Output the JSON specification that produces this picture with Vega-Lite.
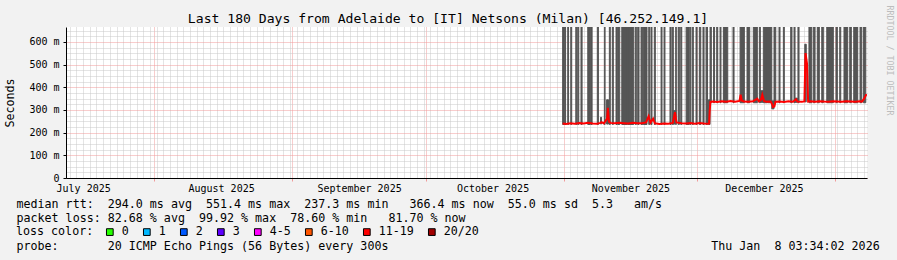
{
  "$schema": "https://vega.github.io/schema/vega-lite/v6.json",
  "width": 801,
  "height": 151,
  "autosize": {"type": "none"},
  "padding": {"left": 66, "top": 27, "right": 30, "bottom": 82},
  "background": "#f2f2f2",
  "title": {
    "text": "Last 180 Days from Adelaide to [IT] Netsons (Milan) [46.252.149.1]",
    "font": "DejaVu Sans Mono",
    "fontSize": 13.1,
    "fontWeight": "normal",
    "color": "#000000",
    "anchor": "middle",
    "dx": -18.5,
    "baseline": "alphabetic",
    "offset": -31.5
  },
  "config": {
    "view": {"fill": "#ffffff", "stroke": null},
    "font": "DejaVu Sans Mono"
  },
  "datasets": {
    "smoke": [
      {"s":"2025-10-31T18:00Z","e":"2025-11-01T03:00Z","lo":236,"hi":666},
      {"s":"2025-11-01T06:00Z","e":"2025-11-01T10:00Z","lo":236,"hi":666},
      {"s":"2025-11-01T21:30Z","e":"2025-11-02T02:00Z","lo":236,"hi":666},
      {"s":"2025-11-02T14:00Z","e":"2025-11-02T19:00Z","lo":236,"hi":666},
      {"s":"2025-11-03T17:00Z","e":"2025-11-03T22:00Z","lo":236,"hi":666},
      {"s":"2025-11-04T03:30Z","e":"2025-11-04T09:00Z","lo":236,"hi":666},
      {"s":"2025-11-04T21:00Z","e":"2025-11-05T03:00Z","lo":236,"hi":666},
      {"s":"2025-11-06T09:30Z","e":"2025-11-06T23:30Z","lo":236,"hi":666},
      {"s":"2025-11-07T03:00Z","e":"2025-11-07T09:00Z","lo":236,"hi":666},
      {"s":"2025-11-08T13:00Z","e":"2025-11-08T19:00Z","lo":236,"hi":666},
      {"s":"2025-11-10T03:00Z","e":"2025-11-10T07:00Z","lo":236,"hi":666},
      {"s":"2025-11-11T06:00Z","e":"2025-11-11T11:00Z","lo":236,"hi":666},
      {"s":"2025-11-11T22:00Z","e":"2025-11-12T03:30Z","lo":236,"hi":666},
      {"s":"2025-11-12T18:00Z","e":"2025-11-12T23:30Z","lo":236,"hi":666},
      {"s":"2025-11-13T03:00Z","e":"2025-11-13T14:00Z","lo":236,"hi":666},
      {"s":"2025-11-14T01:00Z","e":"2025-11-15T05:30Z","lo":236,"hi":666},
      {"s":"2025-11-15T08:00Z","e":"2025-11-16T17:30Z","lo":236,"hi":666},
      {"s":"2025-11-17T02:00Z","e":"2025-11-17T07:30Z","lo":236,"hi":666},
      {"s":"2025-11-17T15:00Z","e":"2025-11-17T22:00Z","lo":236,"hi":666},
      {"s":"2025-11-18T09:00Z","e":"2025-11-18T18:00Z","lo":236,"hi":666},
      {"s":"2025-11-18T21:00Z","e":"2025-11-19T17:00Z","lo":236,"hi":666},
      {"s":"2025-11-20T02:30Z","e":"2025-11-20T08:00Z","lo":236,"hi":666},
      {"s":"2025-11-20T15:00Z","e":"2025-11-20T20:00Z","lo":236,"hi":666},
      {"s":"2025-11-21T08:30Z","e":"2025-11-21T14:00Z","lo":236,"hi":666},
      {"s":"2025-11-22T21:00Z","e":"2025-11-23T02:00Z","lo":236,"hi":666},
      {"s":"2025-11-23T13:00Z","e":"2025-11-23T18:00Z","lo":236,"hi":666},
      {"s":"2025-11-24T21:00Z","e":"2025-11-25T03:00Z","lo":236,"hi":666},
      {"s":"2025-11-25T10:00Z","e":"2025-11-25T15:00Z","lo":236,"hi":666},
      {"s":"2025-11-26T04:00Z","e":"2025-11-26T07:00Z","lo":236,"hi":666},
      {"s":"2025-11-26T18:00Z","e":"2025-11-26T23:30Z","lo":236,"hi":666},
      {"s":"2025-11-27T07:00Z","e":"2025-11-27T12:30Z","lo":236,"hi":666},
      {"s":"2025-11-28T12:00Z","e":"2025-11-29T04:00Z","lo":236,"hi":666},
      {"s":"2025-11-29T08:00Z","e":"2025-11-29T13:00Z","lo":236,"hi":666},
      {"s":"2025-11-29T21:30Z","e":"2025-11-30T03:00Z","lo":236,"hi":666},
      {"s":"2025-11-30T17:30Z","e":"2025-11-30T23:00Z","lo":236,"hi":666},
      {"s":"2025-12-01T11:30Z","e":"2025-12-01T19:00Z","lo":236,"hi":666},
      {"s":"2025-12-02T07:00Z","e":"2025-12-02T12:30Z","lo":236,"hi":666},
      {"s":"2025-12-02T23:30Z","e":"2025-12-03T07:30Z","lo":236,"hi":666},
      {"s":"2025-12-03T21:00Z","e":"2025-12-04T04:00Z","lo":332,"hi":666},
      {"s":"2025-12-04T16:00Z","e":"2025-12-04T21:30Z","lo":332,"hi":666},
      {"s":"2025-12-05T09:00Z","e":"2025-12-05T14:30Z","lo":332,"hi":666},
      {"s":"2025-12-06T03:00Z","e":"2025-12-06T08:00Z","lo":332,"hi":666},
      {"s":"2025-12-06T21:00Z","e":"2025-12-07T20:30Z","lo":332,"hi":666},
      {"s":"2025-12-09T01:00Z","e":"2025-12-09T06:30Z","lo":332,"hi":666},
      {"s":"2025-12-10T15:00Z","e":"2025-12-11T14:00Z","lo":332,"hi":666},
      {"s":"2025-12-12T04:30Z","e":"2025-12-12T19:00Z","lo":332,"hi":666},
      {"s":"2025-12-13T14:30Z","e":"2025-12-14T12:00Z","lo":332,"hi":666},
      {"s":"2025-12-14T23:00Z","e":"2025-12-15T04:30Z","lo":332,"hi":666},
      {"s":"2025-12-15T20:30Z","e":"2025-12-16T16:30Z","lo":332,"hi":666},
      {"s":"2025-12-16T19:00Z","e":"2025-12-17T18:00Z","lo":332,"hi":666},
      {"s":"2025-12-18T06:00Z","e":"2025-12-18T15:30Z","lo":332,"hi":666},
      {"s":"2025-12-19T09:00Z","e":"2025-12-19T14:30Z","lo":332,"hi":666},
      {"s":"2025-12-20T08:30Z","e":"2025-12-20T13:30Z","lo":332,"hi":666},
      {"s":"2025-12-22T00:00Z","e":"2025-12-22T07:00Z","lo":332,"hi":666},
      {"s":"2025-12-22T18:00Z","e":"2025-12-22T23:30Z","lo":332,"hi":666},
      {"s":"2025-12-23T15:30Z","e":"2025-12-23T21:00Z","lo":332,"hi":666},
      {"s":"2025-12-26T02:30Z","e":"2025-12-26T17:30Z","lo":332,"hi":666},
      {"s":"2025-12-27T02:00Z","e":"2025-12-27T11:30Z","lo":332,"hi":666},
      {"s":"2025-12-27T23:30Z","e":"2025-12-28T10:30Z","lo":332,"hi":666},
      {"s":"2025-12-28T23:30Z","e":"2025-12-29T08:00Z","lo":332,"hi":666},
      {"s":"2025-12-30T02:30Z","e":"2025-12-31T14:00Z","lo":332,"hi":666},
      {"s":"2026-01-01T04:30Z","e":"2026-01-01T11:30Z","lo":332,"hi":666},
      {"s":"2026-01-02T00:30Z","e":"2026-01-02T06:00Z","lo":332,"hi":666},
      {"s":"2026-01-02T23:30Z","e":"2026-01-03T19:30Z","lo":332,"hi":666},
      {"s":"2026-01-04T06:30Z","e":"2026-01-04T15:00Z","lo":332,"hi":666},
      {"s":"2026-01-05T04:00Z","e":"2026-01-06T01:30Z","lo":332,"hi":666},
      {"s":"2026-01-06T14:00Z","e":"2026-01-06T23:00Z","lo":332,"hi":666},
      {"s":"2026-01-07T08:00Z","e":"2026-01-07T21:00Z","lo":332,"hi":666},
      {"s":"2025-12-25T04:00Z","e":"2025-12-25T12:00Z","lo":336,"hi":590},
      {"s":"2025-11-10T15:00Z","e":"2025-11-11T01:30Z","lo":238,"hi":345},
      {"s":"2025-11-09T06:30Z","e":"2025-11-09T12:00Z","lo":238,"hi":268},
      {"s":"2025-11-25T15:00Z","e":"2025-11-26T03:00Z","lo":238,"hi":297},
      {"s":"2025-12-03T13:00Z","e":"2025-12-03T21:00Z","lo":236,"hi":345},
      {"s":"2025-12-15T04:30Z","e":"2025-12-15T20:00Z","lo":334,"hi":385},
      {"s":"2025-12-17T18:00Z","e":"2025-12-18T06:00Z","lo":305,"hi":340},
      {"s":"2025-12-22T23:30Z","e":"2025-12-23T13:00Z","lo":334,"hi":352}
    ],
    "median": [
      {"t":"2025-10-31T18:00Z","med":240,"loss":"11-19"},
      {"t":"2025-11-01T12:00Z","med":238,"loss":"11-19"},
      {"t":"2025-11-02T12:00Z","med":241,"loss":"11-19"},
      {"t":"2025-11-03T12:00Z","med":239,"loss":"11-19"},
      {"t":"2025-11-04T12:00Z","med":242,"loss":"11-19"},
      {"t":"2025-11-05T12:00Z","med":240,"loss":"11-19"},
      {"t":"2025-11-06T12:00Z","med":244,"loss":"11-19"},
      {"t":"2025-11-07T12:00Z","med":240,"loss":"11-19"},
      {"t":"2025-11-08T12:00Z","med":239,"loss":"11-19"},
      {"t":"2025-11-09T06:00Z","med":243,"loss":"11-19"},
      {"t":"2025-11-09T12:00Z","med":246,"loss":"11-19"},
      {"t":"2025-11-10T00:00Z","med":241,"loss":"11-19"},
      {"t":"2025-11-10T18:00Z","med":262,"loss":"11-19"},
      {"t":"2025-11-10T22:00Z","med":310,"loss":"11-19"},
      {"t":"2025-11-11T04:00Z","med":248,"loss":"11-19"},
      {"t":"2025-11-11T12:00Z","med":243,"loss":"11-19"},
      {"t":"2025-11-12T12:00Z","med":241,"loss":"11-19"},
      {"t":"2025-11-13T12:00Z","med":244,"loss":"11-19"},
      {"t":"2025-11-14T12:00Z","med":242,"loss":"11-19"},
      {"t":"2025-11-15T12:00Z","med":240,"loss":"11-19"},
      {"t":"2025-11-16T12:00Z","med":244,"loss":"11-19"},
      {"t":"2025-11-17T12:00Z","med":241,"loss":"11-19"},
      {"t":"2025-11-18T12:00Z","med":242,"loss":"11-19"},
      {"t":"2025-11-19T12:00Z","med":245,"loss":"11-19"},
      {"t":"2025-11-20T02:00Z","med":272,"loss":"11-19"},
      {"t":"2025-11-20T12:00Z","med":244,"loss":"11-19"},
      {"t":"2025-11-21T02:00Z","med":262,"loss":"11-19"},
      {"t":"2025-11-21T12:00Z","med":241,"loss":"11-19"},
      {"t":"2025-11-22T12:00Z","med":238,"loss":"11-19"},
      {"t":"2025-11-23T12:00Z","med":240,"loss":"11-19"},
      {"t":"2025-11-24T12:00Z","med":239,"loss":"11-19"},
      {"t":"2025-11-25T12:00Z","med":243,"loss":"11-19"},
      {"t":"2025-11-26T00:00Z","med":290,"loss":"11-19"},
      {"t":"2025-11-26T08:00Z","med":245,"loss":"11-19"},
      {"t":"2025-11-27T12:00Z","med":241,"loss":"11-19"},
      {"t":"2025-11-28T12:00Z","med":240,"loss":"11-19"},
      {"t":"2025-11-29T12:00Z","med":242,"loss":"11-19"},
      {"t":"2025-11-30T12:00Z","med":239,"loss":"11-19"},
      {"t":"2025-12-01T12:00Z","med":243,"loss":"11-19"},
      {"t":"2025-12-02T12:00Z","med":240,"loss":"11-19"},
      {"t":"2025-12-03T12:00Z","med":239,"loss":"11-19"},
      {"t":"2025-12-03T16:00Z","med":240,"loss":"11-19"},
      {"t":"2025-12-03T19:00Z","med":292,"loss":"11-19"},
      {"t":"2025-12-03T23:00Z","med":336,"loss":"11-19"},
      {"t":"2025-12-04T12:00Z","med":337,"loss":"11-19"},
      {"t":"2025-12-05T12:00Z","med":335,"loss":"11-19"},
      {"t":"2025-12-06T12:00Z","med":338,"loss":"11-19"},
      {"t":"2025-12-07T12:00Z","med":336,"loss":"11-19"},
      {"t":"2025-12-08T12:00Z","med":340,"loss":"11-19"},
      {"t":"2025-12-09T12:00Z","med":336,"loss":"11-19"},
      {"t":"2025-12-10T12:00Z","med":340,"loss":"11-19"},
      {"t":"2025-12-10T18:00Z","med":367,"loss":"11-19"},
      {"t":"2025-12-11T00:00Z","med":342,"loss":"11-19"},
      {"t":"2025-12-11T12:00Z","med":337,"loss":"11-19"},
      {"t":"2025-12-12T12:00Z","med":336,"loss":"11-19"},
      {"t":"2025-12-13T12:00Z","med":338,"loss":"11-19"},
      {"t":"2025-12-14T12:00Z","med":350,"loss":"11-19"},
      {"t":"2025-12-14T20:00Z","med":338,"loss":"11-19"},
      {"t":"2025-12-15T08:00Z","med":345,"loss":"11-19"},
      {"t":"2025-12-15T15:00Z","med":367,"loss":"11-19"},
      {"t":"2025-12-16T00:00Z","med":340,"loss":"11-19"},
      {"t":"2025-12-16T12:00Z","med":336,"loss":"11-19"},
      {"t":"2025-12-17T12:00Z","med":337,"loss":"11-19"},
      {"t":"2025-12-17T20:00Z","med":325,"loss":"11-19"},
      {"t":"2025-12-18T00:00Z","med":313,"loss":"11-19"},
      {"t":"2025-12-18T08:00Z","med":315,"loss":"11-19"},
      {"t":"2025-12-18T14:00Z","med":336,"loss":"11-19"},
      {"t":"2025-12-19T12:00Z","med":337,"loss":"11-19"},
      {"t":"2025-12-20T12:00Z","med":335,"loss":"11-19"},
      {"t":"2025-12-21T12:00Z","med":338,"loss":"11-19"},
      {"t":"2025-12-22T12:00Z","med":336,"loss":"11-19"},
      {"t":"2025-12-23T05:00Z","med":347,"loss":"11-19"},
      {"t":"2025-12-23T12:00Z","med":337,"loss":"11-19"},
      {"t":"2025-12-24T12:00Z","med":336,"loss":"11-19"},
      {"t":"2025-12-25T02:00Z","med":338,"loss":"11-19"},
      {"t":"2025-12-25T08:00Z","med":551,"loss":"11-19"},
      {"t":"2025-12-25T16:00Z","med":505,"loss":"11-19"},
      {"t":"2025-12-25T22:00Z","med":337,"loss":"11-19"},
      {"t":"2025-12-26T12:00Z","med":338,"loss":"11-19"},
      {"t":"2025-12-27T12:00Z","med":336,"loss":"11-19"},
      {"t":"2025-12-28T12:00Z","med":339,"loss":"11-19"},
      {"t":"2025-12-29T12:00Z","med":337,"loss":"11-19"},
      {"t":"2025-12-30T12:00Z","med":336,"loss":"11-19"},
      {"t":"2025-12-31T12:00Z","med":338,"loss":"11-19"},
      {"t":"2026-01-01T12:00Z","med":337,"loss":"11-19"},
      {"t":"2026-01-02T12:00Z","med":336,"loss":"11-19"},
      {"t":"2026-01-03T12:00Z","med":338,"loss":"11-19"},
      {"t":"2026-01-04T12:00Z","med":337,"loss":"11-19"},
      {"t":"2026-01-05T12:00Z","med":336,"loss":"11-19"},
      {"t":"2026-01-06T12:00Z","med":338,"loss":"11-19"},
      {"t":"2026-01-07T00:00Z","med":337,"loss":"11-19"},
      {"t":"2026-01-07T12:00Z","med":350,"loss":"11-19"},
      {"t":"2026-01-07T22:00Z","med":366,"loss":"11-19"},
      {"t":"2026-01-08T03:00Z","med":366,"loss":"11-19"}
    ]
  },
  "layer": [
    {
      "data": {"name": "smoke"},
      "mark": {"type": "rect", "color": "#555555", "stroke": "#555555", "strokeWidth": 1, "clip": true},
      "encoding": {
        "x": {
          "field": "s", "type": "temporal",
          "scale": {"type": "utc", "domain": [1752291242000, 1767843242000]},
          "axis": {
            "orient": "bottom",
            "values": [1752364800000,1752494400000,1752624000000,1752753600000,1752883200000,1753012800000,1753142400000,1753272000000,1753401600000,1753531200000,1753660800000,1753790400000,1753920000000,1754049600000,1754179200000,1754308800000,1754438400000,1754568000000,1754697600000,1754827200000,1754956800000,1755086400000,1755216000000,1755345600000,1755475200000,1755604800000,1755734400000,1755864000000,1755993600000,1756123200000,1756252800000,1756382400000,1756512000000,1756641600000,1756771200000,1756900800000,1757030400000,1757160000000,1757289600000,1757419200000,1757548800000,1757678400000,1757808000000,1757937600000,1758067200000,1758196800000,1758326400000,1758456000000,1758585600000,1758715200000,1758844800000,1758974400000,1759104000000,1759233600000,1759363200000,1759492800000,1759622400000,1759752000000,1759881600000,1760011200000,1760140800000,1760270400000,1760400000000,1760529600000,1760659200000,1760788800000,1760918400000,1761048000000,1761177600000,1761307200000,1761436800000,1761566400000,1761696000000,1761825600000,1762084800000,1762214400000,1762344000000,1762473600000,1762603200000,1762732800000,1762862400000,1762992000000,1763121600000,1763251200000,1763380800000,1763510400000,1763640000000,1763769600000,1763899200000,1764028800000,1764158400000,1764288000000,1764417600000,1764676800000,1764806400000,1764936000000,1765065600000,1765195200000,1765324800000,1765454400000,1765584000000,1765713600000,1765843200000,1765972800000,1766102400000,1766232000000,1766361600000,1766491200000,1766620800000,1766750400000,1766880000000,1767009600000,1767139200000,1767268800000,1767398400000,1767528000000,1767657600000,1767787200000],
            "grid": true, "gridColor": "#c8c8c8", "gridDash": [1, 1], "gridWidth": 1,
            "labels": false, "ticks": false, "domain": false,
            "title": "probe:\u00a0\u00a0\u00a0\u00a0\u00a0\u00a0\u00a020\u00a0ICMP\u00a0Echo\u00a0Pings\u00a0(56\u00a0Bytes)\u00a0every\u00a0300s\u00a0\u00a0\u00a0\u00a0\u00a0\u00a0\u00a0\u00a0\u00a0\u00a0\u00a0\u00a0\u00a0\u00a0\u00a0\u00a0\u00a0\u00a0\u00a0\u00a0\u00a0\u00a0\u00a0\u00a0\u00a0\u00a0\u00a0\u00a0\u00a0\u00a0\u00a0\u00a0\u00a0\u00a0\u00a0\u00a0\u00a0\u00a0\u00a0\u00a0\u00a0\u00a0\u00a0\u00a0\u00a0\u00a0Thu\u00a0Jan\u00a0\u00a08\u00a003:34:02\u00a02026",
            "titleFont": "DejaVu Sans Mono", "titleFontSize": 11.66, "titleFontWeight": "normal",
            "titleColor": "#000000", "titleAnchor": "start", "titleAlign": "left",
            "titleBaseline": "alphabetic",
            "titleX": -50, "titleY": 71.2, "titleAngle": 0
          }
        },
        "x2": {"field": "e"},
        "y": {
          "field": "lo", "type": "quantitative",
          "scale": {"domain": [0, 666], "nice": false, "zero": true},
          "axis": {
            "orient": "left",
            "values": [25,50,75,125,150,175,225,250,275,325,350,375,425,450,475,525,550,575,625,650],
            "grid": true, "gridColor": "#c8c8c8", "gridDash": [1, 1], "gridWidth": 1,
            "labels": false, "ticks": false, "domain": false, "title": null
          }
        },
        "y2": {"field": "hi"}
      }
    },
    {
      "data": {"name": "median"},
      "mark": {"type": "line", "strokeWidth": 2, "clip": true},
      "encoding": {
        "x": {
          "field": "t", "type": "temporal",
          "scale": {"type": "utc", "domain": [1752291242000, 1767843242000]},
          "axis": {
            "orient": "bottom",
            "values": [1754006400000, 1756684800000, 1759276800000, 1761955200000, 1764547200000, 1767225600000],
            "grid": true, "gridColor": "#f09a9a", "gridDash": [1, 1], "gridWidth": 1,
            "labels": false, "ticks": true, "tickColor": "#f09a9a", "tickSize": 3,
            "domain": true, "domainColor": "#000000", "domainWidth": 1, "title": null
          }
        },
        "y": {
          "field": "med", "type": "quantitative",
          "scale": {"domain": [0, 666], "nice": false, "zero": true},
          "axis": {
            "orient": "left",
            "values": [0, 100, 200, 300, 400, 500, 600],
            "grid": true, "gridColor": "#f09a9a", "gridDash": [1, 1], "gridWidth": 1,
            "labelExpr": "datum.value == 0 ? '0' : datum.value + ' m'",
            "labelFont": "DejaVu Sans Mono", "labelFontSize": 10, "labelColor": "#000000",
            "labelPadding": 4,
            "ticks": true, "tickColor": "#000000", "tickSize": 3,
            "domain": true, "domainColor": "#000000", "domainWidth": 1,
            "title": "Seconds",
            "titleFont": "DejaVu Sans Mono", "titleFontSize": 11.66, "titleFontWeight": "normal",
            "titleColor": "#000000", "titleAngle": -90, "titleAlign": "center",
            "titleBaseline": "middle", "titleX": -55.3, "titleY": 75.5
          }
        },
        "color": {
          "field": "loss", "type": "nominal",
          "scale": {
            "domain": ["0", "1", "2", "3", "4-5", "6-10", "11-19", "20/20"],
            "range": ["#26ff00", "#00b8ff", "#0059ff", "#5e00ff", "#ff00ff", "#ff5500", "#ff0000", "#a10000"]
          },
          "legend": null
        }
      }
    },
    {
      "data": {"name": "median"},
      "mark": {"type": "square", "filled": true, "opacity": 0, "size": 4},
      "encoding": {
        "x": {
          "field": "t", "type": "temporal",
          "scale": {"type": "utc", "domain": [1752291242000, 1767843242000]},
          "axis": {
            "orient": "bottom",
            "values": [1752624000000, 1755302400000, 1757980800000, 1760572800000, 1763251200000, 1765843200000],
            "labelExpr": "utcFormat(datum.value, '%B %Y')",
            "labelFont": "DejaVu Sans Mono", "labelFontSize": 10, "labelColor": "#000000",
            "labelPadding": 5, "labelFlush": false, "labelOverlap": false, "labelAlign": "center",
            "grid": false, "ticks": false, "tickSize": 0, "domain": false,
            "title": [
              "median\u00a0rtt:\u00a0\u00a0294.0\u00a0ms\u00a0avg\u00a0\u00a0551.4\u00a0ms\u00a0max\u00a0\u00a0237.3\u00a0ms\u00a0min\u00a0\u00a0\u00a0366.4\u00a0ms\u00a0now\u00a0\u00a055.0\u00a0ms\u00a0sd\u00a0\u00a05.3\u00a0\u00a0\u00a0am/s",
              "packet\u00a0loss:\u00a082.68\u00a0%\u00a0avg\u00a0\u00a099.92\u00a0%\u00a0max\u00a0\u00a078.60\u00a0%\u00a0min\u00a0\u00a0\u00a081.70\u00a0%\u00a0now"
            ],
            "titleFont": "DejaVu Sans Mono", "titleFontSize": 11.66, "titleFontWeight": "normal",
            "titleColor": "#000000", "titleAnchor": "start", "titleAlign": "left",
            "titleBaseline": "alphabetic", "titleLineHeight": 13.9,
            "titleX": -50, "titleY": 29.5, "titleAngle": 0
          }
        },
        "y": {
          "field": "med", "type": "quantitative",
          "scale": {"domain": [0, 666], "nice": false, "zero": true},
          "axis": {
            "orient": "right",
            "labels": false, "ticks": false, "domain": false, "grid": false,
            "title": "RRDTOOL / TOBI OETIKER",
            "titleFont": "DejaVu Sans Mono", "titleFontSize": 8.3, "titleFontWeight": "normal",
            "titleColor": "#bdbdbd", "titleAngle": 90, "titleAlign": "center",
            "titleBaseline": "middle", "titleX": 21, "titleY": 33
          }
        },
        "color": {
          "field": "loss", "type": "nominal",
          "scale": {
            "domain": ["0", "1", "2", "3", "4-5", "6-10", "11-19", "20/20"],
            "range": ["#26ff00", "#00b8ff", "#0059ff", "#5e00ff", "#ff00ff", "#ff5500", "#ff0000", "#a10000"]
          },
          "legend": {
            "title": "loss color:",
            "orient": "none",
            "legendX": -50,
            "legendY": 199,
            "direction": "horizontal",
            "titleOrient": "left",
            "titleFont": "DejaVu Sans Mono",
            "titleFontSize": 11.66,
            "titleFontWeight": "normal",
            "titleColor": "#000000",
            "titlePadding": 10,
            "titleBaseline": "middle",
            "labelFont": "DejaVu Sans Mono",
            "labelFontSize": 11.66,
            "labelColor": "#000000",
            "labelOffset": 6,
            "labelLimit": 0,
            "columnPadding": 12,
            "symbolType": "square",
            "symbolSize": 45,
            "symbolStrokeWidth": 1,
            "symbolStrokeColor": "#000000",
            "symbolOpacity": 1,
            "encode": {
              "symbols": {
                "update": {
                  "stroke": {"value": "#000000"},
                  "strokeWidth": {"value": 1},
                  "opacity": {"value": 1}
                }
              }
            }
          }
        }
      }
    }
  ],
  "resolve": {"axis": {"x": "independent", "y": "independent"}, "legend": {"color": "independent"}}
}
